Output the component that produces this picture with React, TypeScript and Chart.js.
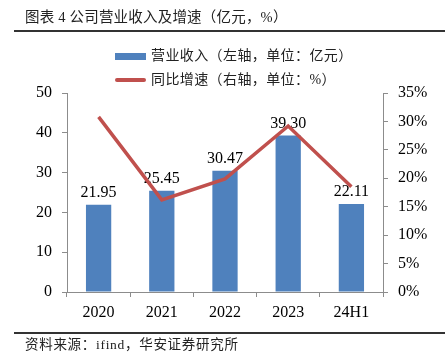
import React, { useEffect, useRef } from "react";
import { Chart, registerables } from "chart.js";

Chart.register(...registerables);

const title = "图表 4 公司营业收入及增速（亿元，%）";
const source = "资料来源：ifind，华安证券研究所";
const categories = ["2020", "2021", "2022", "2023", "24H1"];
const revenue = [21.95, 25.45, 30.47, 39.3, 22.11];
const growth = [30.8, 16.2, 19.9, 29.2, 18.5];
const leftTicks = [0, 10, 20, 30, 40, 50];
const rightTicks = [0, 5, 10, 15, 20, 25, 30, 35];
const revenueLabel = "营业收入（左轴，单位：亿元）";
const growthLabel = "同比增速（右轴，单位：%）";

const BLUE = "#4F81BD";
const RED = "#C0504D";
const AXIS = "#8c8c8c";
const SERIF = '"Liberation Serif", "Times New Roman", serif';
const CJK = '"Liberation Serif", "Noto Sans CJK SC", serif';

const barLabels = {
  id: "barLabels",
  afterDatasetDraw(chart: any, args: any) {
    if (args.index !== 1) return;
    const ctx = chart.ctx;
    ctx.save();
    ctx.font = `16px ${SERIF}`;
    ctx.fillStyle = "#000";
    ctx.textAlign = "center";
    ctx.textBaseline = "alphabetic";
    args.meta.data.forEach((el: any, i: number) => {
      ctx.fillText(revenue[i].toFixed(2), el.x, el.y - 8);
    });
    ctx.restore();
  },
};

export default function App() {
  const ref = useRef<HTMLCanvasElement>(null);

  useEffect(() => {
    document.body.style.margin = "0";
    const chart = new Chart(ref.current!, {
      type: "bar",
      data: {
        labels: categories,
        datasets: [
          {
            type: "line",
            label: growthLabel,
            data: growth,
            yAxisID: "y1",
            borderColor: RED,
            backgroundColor: RED,
            borderWidth: 3.5,
            pointRadius: 0,
            tension: 0,
          } as any,
          {
            type: "bar",
            label: revenueLabel,
            data: revenue,
            yAxisID: "y",
            backgroundColor: BLUE,
            barPercentage: 0.4,
            categoryPercentage: 1,
          },
        ],
      },
      options: {
        responsive: false,
        animation: false,
        layout: { padding: { top: 93, left: 0, right: 0, bottom: 0 } },
        plugins: { legend: { display: false }, tooltip: { enabled: false } },
        scales: {
          x: {
            grid: { drawOnChartArea: false, drawTicks: true, tickLength: 5, color: AXIS, offset: true },
            border: { color: AXIS },
            ticks: { color: "#000", font: { family: SERIF, size: 16 }, padding: 6 },
            afterFit(s: any) {
              s.height = 66;
            },
          },
          y: {
            position: "left",
            min: leftTicks[0],
            max: leftTicks[leftTicks.length - 1],
            ticks: { stepSize: leftTicks[1] - leftTicks[0], color: "#000", font: { family: SERIF, size: 16 }, padding: 10 },
            grid: { drawOnChartArea: false, drawTicks: true, tickLength: 5, color: AXIS },
            border: { color: AXIS },
            afterFit(s: any) {
              s.width = 67;
            },
          },
          y1: {
            position: "right",
            min: rightTicks[0],
            max: rightTicks[rightTicks.length - 1],
            ticks: {
              stepSize: rightTicks[1] - rightTicks[0],
              color: "#000",
              font: { family: SERIF, size: 16 },
              padding: 10,
              callback: (v: any) => `${v}%`,
            },
            grid: { drawOnChartArea: false, drawTicks: true, tickLength: 5, color: AXIS },
            border: { color: AXIS },
            afterFit(s: any) {
              s.width = 62;
            },
          },
        },
      } as any,
      plugins: [barLabels],
    });
    return () => chart.destroy();
  }, []);

  const textStyle: React.CSSProperties = {
    position: "absolute",
    fontFamily: CJK,
    color: "#222",
    whiteSpace: "nowrap",
    lineHeight: 1,
  };

  return (
    <div style={{ position: "relative", width: 445, height: 358, background: "#fff", overflow: "hidden" }}>
      <canvas ref={ref} width={445} height={358} style={{ position: "absolute", left: 0, top: 0 }} />
      <div style={{ ...textStyle, left: 25, top: 10, fontSize: 14.5, letterSpacing: 0.2 }}>{title}</div>
      <div style={{ position: "absolute", left: 14, right: 0, top: 30, height: 1.5, background: "#333" }} />
      <div style={{ position: "absolute", left: 115, top: 53, width: 31, height: 7, background: BLUE }} />
      <div style={{ ...textStyle, left: 151, top: 49, fontSize: 14, letterSpacing: 0.4 }}>{revenueLabel}</div>
      <div style={{ position: "absolute", left: 115, top: 78, width: 31, height: 4, borderRadius: 2, background: RED }} />
      <div style={{ ...textStyle, left: 151, top: 73, fontSize: 14, letterSpacing: 0.4 }}>{growthLabel}</div>
      <div style={{ position: "absolute", left: 14, right: 0, top: 332, height: 1.5, background: "#333" }} />
      <div style={{ ...textStyle, left: 25, top: 338, fontSize: 13.5, letterSpacing: 0.7 }}>{source}</div>
    </div>
  );
}
